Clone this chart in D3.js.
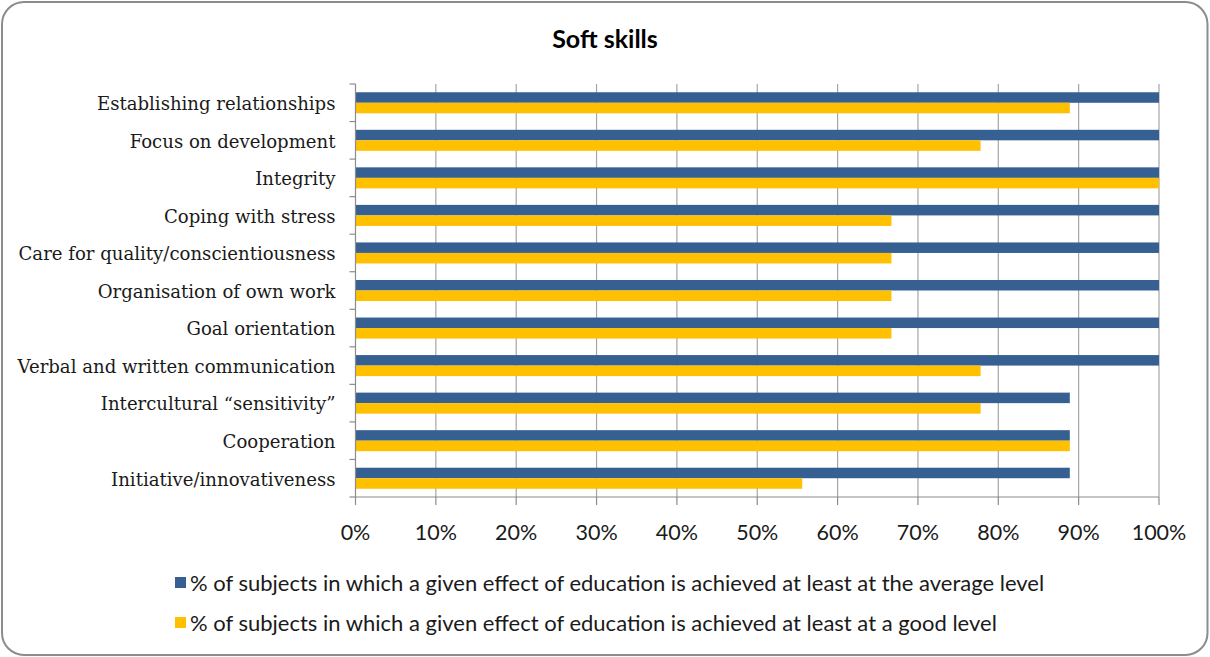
<!DOCTYPE html>
<html>
<head>
<meta charset="utf-8">
<script src="https://cdn.jsdelivr.net/npm/d3@7"></script>
<style>
  body { margin: 0; background: #fff; }
  svg { display: block; }
</style>
</head>
<body>
<div id="chart"></div>
<script>
// categories, top to bottom
const categories = [
    "Establishing relationships",
    "Focus on development",
    "Integrity",
    "Coping with stress",
    "Care for quality/conscientiousness",
    "Organisation of own work",
    "Goal orientation",
    "Verbal and written communication",
    "Intercultural “sensitivity”",
    "Cooperation",
    "Initiative/innovativeness"
];
const averageLevel = [100, 100, 100, 100, 100, 100, 100, 100, 88.9, 88.9, 88.9];
const goodLevel = [88.9, 77.8, 100, 66.7, 66.7, 66.7, 66.7, 77.8, 77.8, 88.9, 55.6];
const xTicks = [0, 10, 20, 30, 40, 50, 60, 70, 80, 90, 100];
const seriesNames = [
    "% of subjects in which a given effect of education is achieved at least at the average level",
    "% of subjects in which a given effect of education is achieved at least at a good level"
];
const colors = ["#376092", "#FFC000"];

const width = 1210, height = 657;
const marginLeft = 355.5, marginRight = 51, marginTop = 84, marginBottom = 160;
const sansFont = "Lato, 'Open Sans', sans-serif";

const svg = d3.select("#chart").append("svg")
    .attr("width", width)
    .attr("height", height);

// cadre arrondi
svg.append("rect")
    .attr("x", 2).attr("y", 2)
    .attr("width", width - 4.5).attr("height", height - 4)
    .attr("rx", 22)
    .attr("fill", "#fff")
    .attr("stroke", "#8c8c8c")
    .attr("stroke-width", 2);

svg.append("text")
    .attr("x", 605).attr("y", 48)
    .attr("text-anchor", "middle")
    .attr("font-family", sansFont)
    .attr("font-weight", "bold")
    .attr("font-size", 25)
    .attr("fill", "#000")
    .text("Soft skills");

const x = d3.scaleLinear().domain([0, 100]).range([marginLeft, width - marginRight]);
const y = d3.scaleBand().domain(categories)
    .range([marginTop, height - marginBottom])
    .paddingInner(0.44).paddingOuter(0.22);
const yInner = d3.scaleBand().domain([0, 1]).range([0, y.bandwidth()]);

// grille verticale
svg.append("g")
    .selectAll("line")
    .data(xTicks.slice(1))
    .join("line")
    .attr("x1", d => x(d)).attr("x2", d => x(d))
    .attr("y1", marginTop).attr("y2", height - marginBottom)
    .attr("stroke", "#a6a6a6")
    .attr("stroke-width", 1.2);

// barres
const rows = categories.map((c, i) => ({ cat: c, values: [averageLevel[i], goodLevel[i]] }));
svg.append("g")
    .selectAll("g")
    .data(rows)
    .join("g")
    .attr("transform", d => `translate(0,${y(d.cat)})`)
    .selectAll("rect")
    .data(d => d.values.map((v, k) => ({ v, k })))
    .join("rect")
    .attr("x", x(0))
    .attr("y", d => yInner(d.k))
    .attr("width", d => x(d.v) - x(0))
    .attr("height", yInner.bandwidth())
    .attr("fill", d => colors[d.k]);

// axe Y
const step = (height - marginBottom - marginTop) / categories.length;
const yAxisG = svg.append("g")
    .attr("transform", `translate(${marginLeft},0)`);
yAxisG.append("line")
    .attr("x1", 0).attr("x2", 0)
    .attr("y1", marginTop).attr("y2", height - marginBottom)
    .attr("stroke", "#8c8c8c").attr("stroke-width", 1.2);
yAxisG.selectAll(".tk")
    .data(d3.range(categories.length + 1))
    .join("line")
    .attr("x1", -6).attr("x2", 0)
    .attr("y1", i => marginTop + i * step)
    .attr("y2", i => marginTop + i * step)
    .attr("stroke", "#8c8c8c").attr("stroke-width", 1.2);
yAxisG.selectAll(".lbl")
    .data(categories)
    .join("text")
    .attr("x", -20)
    .attr("y", d => y(d) + y.bandwidth() / 2 + 1)
    .attr("dy", "0.35em")
    .attr("text-anchor", "end")
    .attr("font-family", "DejaVu Serif, serif")
    .attr("font-size", 18.1)
    .attr("fill", "#1a1a1a")
    .text(d => d);

// axe X
const xAxisG = svg.append("g")
    .attr("transform", `translate(0,${height - marginBottom})`);
xAxisG.append("line")
    .attr("x1", x(0)).attr("x2", x(100))
    .attr("stroke", "#8c8c8c").attr("stroke-width", 1.2);
xAxisG.selectAll(".tk")
    .data(xTicks)
    .join("line")
    .attr("x1", d => x(d)).attr("x2", d => x(d))
    .attr("y1", 0).attr("y2", 8)
    .attr("stroke", "#8c8c8c").attr("stroke-width", 1.2);
xAxisG.selectAll(".lbl")
    .data(xTicks)
    .join("text")
    .attr("x", d => x(d))
    .attr("y", 43)
    .attr("text-anchor", "middle")
    .attr("font-family", sansFont)
    .attr("font-size", 21.5)
    .attr("fill", "#1a1a1a")
    .text(d => d + "%");

// légende
const legend = svg.append("g");
seriesNames.forEach((name, i) => {
    const ly = 583 + i * 40;
    legend.append("rect")
        .attr("x", 175).attr("y", ly - 6)
        .attr("width", 11).attr("height", 11)
        .attr("fill", colors[i]);
    legend.append("text")
        .attr("x", 190).attr("y", ly)
        .attr("dy", "0.35em")
        .attr("font-family", sansFont)
        .attr("font-size", 22)
        .attr("fill", "#1a1a1a")
        .text(name);
});
</script>
</body>
</html>
